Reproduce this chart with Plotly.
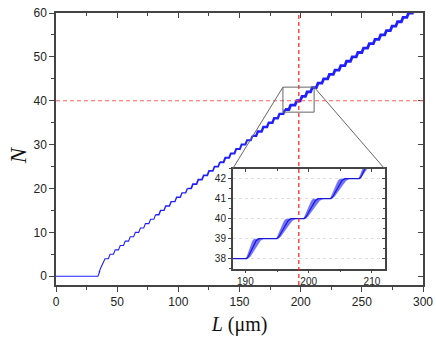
import plotly.graph_objects as go

# ---- data ----
# main curve: L (um) at which the count N steps up to each level
step_level = list(range(1, 63))
step_L = [35.0, 36.0, 37.4, 39.4, 43.5, 47.7, 51.8, 55.9, 60.0, 64.2,
          68.3, 72.4, 76.6, 80.7, 84.8, 89.0, 93.4, 97.9, 102.3, 106.7,
          111.2, 115.6, 120.0, 124.4, 128.9, 133.3, 137.7, 142.2, 146.6, 151.0,
          155.5, 159.9, 164.3, 168.8, 173.2, 177.6, 182.0, 186.5, 191.1, 196.1,
          200.4, 204.6, 208.8, 213.5, 218.1, 222.8, 227.4, 232.1, 236.8, 241.4,
          246.1, 250.7, 255.4, 260.1, 264.7, 269.4, 274.0, 278.5, 283.0, 287.5,
          292.0, 296.5]

# inset: zoomed view around N = 40 (centre curve and spread of the ensemble)
inset_N = [38.0, 38.0, 38.1, 38.3, 38.5, 38.7, 38.9, 39.0,
           39.0, 39.1, 39.3, 39.5, 39.7, 39.9, 40.0,
           40.0, 40.1, 40.3, 40.5, 40.7, 40.9, 41.0,
           41.0, 41.1, 41.3, 41.5, 41.7, 41.9, 42.0,
           42.0, 42.1, 42.3, 42.5, 42.7]
inset_L = [188.0, 190.2, 190.45, 190.75, 191.05, 191.35, 191.7, 192.1,
           195.0, 195.3, 195.65, 196.0, 196.35, 196.75, 197.2,
           199.3, 199.6, 199.95, 200.3, 200.65, 201.05, 201.5,
           203.5, 203.8, 204.15, 204.5, 204.85, 205.25, 205.7,
           208.0, 208.3, 208.6, 208.9, 209.2]
band_lo = [188.0, 190.0, 190.2, 190.4, 190.6, 190.85, 191.1, 191.4,
           194.8, 195.0, 195.25, 195.5, 195.8, 196.1, 196.4,
           199.1, 199.3, 199.55, 199.8, 200.1, 200.4, 200.7,
           203.3, 203.5, 203.75, 204.0, 204.3, 204.6, 204.9,
           207.8, 208.0, 208.25, 208.5, 208.75]
band_hi = [188.0, 190.4, 190.8, 191.2, 191.6, 192.0, 192.4, 192.9,
           195.2, 195.6, 196.05, 196.5, 196.95, 197.45, 198.0,
           199.5, 199.9, 200.35, 200.8, 201.25, 201.75, 202.4,
           203.7, 204.1, 204.55, 205.0, 205.45, 205.95, 206.5,
           208.2, 208.5, 208.9, 209.3, 209.7]

L_mark = 198.5     # red dashed vertical
N_mark = 40        # red dashed horizontal
zoom_box = dict(x0=185.5, x1=211.0, y0=37.4, y1=43.1)

# ---- layout constants ----
x_range = [0, 300]
y_range = [-2, 60]
inset_dx = [0.4815, 0.8954]
inset_dy = [0.06, 0.4276]
rise = 1.4
axis_col = '#444444'
tick_font = dict(family='Liberation Sans, Arial', size=12, color='#222222')
serif = 'Liberation Serif, Times New Roman'

# staircase from the step list
main_L, main_N = [0.0], [0]
for k, L in zip(step_level, step_L):
    main_L += [L - rise / 2, L + rise / 2]
    main_N += [k - 1, k]

fig = go.Figure()

# the ensemble spreads with N, so the curve gets thicker going up
seg_edges = [0, 14, 20, 26, 32, 38, 62]
seg_width = [1.1, 1.4, 1.7, 2.0, 2.4, 2.8]
for a, b, w in zip(seg_edges[:-1], seg_edges[1:], seg_width):
    i0, i1 = 2 * a, 2 * b + 1
    fig.add_trace(go.Scatter(x=main_L[i0:i1], y=main_N[i0:i1], mode='lines',
                             line=dict(color='#2020ff', width=w),
                             hoverinfo='skip'))

# inset: ensemble band + centre curve
fig.add_trace(go.Scatter(x=band_lo + band_hi[::-1], y=inset_N + inset_N[::-1],
                         mode='lines', fill='toself',
                         fillcolor='rgba(80,80,255,0.8)',
                         line=dict(width=0, color='rgba(0,0,0,0)'),
                         xaxis='x2', yaxis='y2', hoverinfo='skip'))
fig.add_trace(go.Scatter(x=inset_L, y=inset_N, mode='lines',
                         line=dict(color='#1818d8', width=1.2),
                         xaxis='x2', yaxis='y2', hoverinfo='skip'))

# dummy traces so the mirror axes (inward ticks on top/right) are drawn
fig.add_trace(go.Scatter(x=[x_range[0]], y=[y_range[0]], mode='markers',
                         marker=dict(opacity=0), xaxis='x3', yaxis='y3',
                         hoverinfo='skip'))
fig.add_trace(go.Scatter(x=[190], y=[38], mode='markers',
                         marker=dict(opacity=0), xaxis='x4', yaxis='y4',
                         hoverinfo='skip'))

base = dict(showline=True, linecolor=axis_col, linewidth=1.5, showgrid=False,
            zeroline=False, ticks='outside', tickcolor=axis_col, tickwidth=1.2,
            tickfont=tick_font, automargin=False)
mirror_ax = dict(showline=False, showgrid=False, zeroline=False,
                 showticklabels=False, ticks='inside', tickcolor=axis_col,
                 tickwidth=1.2, automargin=False)

fig.update_layout(
    width=436, height=342,
    margin=dict(l=55.5, r=13.3, t=13.3, b=56.7, pad=0),
    plot_bgcolor='white', paper_bgcolor='white',
    showlegend=False,
    xaxis=dict(base, range=x_range, tick0=0, dtick=50, ticklen=5, mirror=True,
               minor=dict(dtick=25, ticks='outside', ticklen=3, tickcolor=axis_col),
               title=dict(text='<i>L</i> (μm)', standoff=9,
                          font=dict(family=serif, size=20, color='#111111'))),
    yaxis=dict(base, range=y_range, tick0=0, dtick=10, ticklen=5, mirror=True,
               minor=dict(dtick=5, ticks='outside', ticklen=3, tickcolor=axis_col)),
    xaxis3=dict(mirror_ax, overlaying='x', side='top', anchor='y', range=x_range,
                tick0=0, dtick=50, ticklen=5,
                minor=dict(dtick=25, ticks='inside', ticklen=3, tickcolor=axis_col)),
    yaxis3=dict(mirror_ax, overlaying='y', side='right', anchor='x', range=y_range,
                tick0=0, dtick=10, ticklen=5,
                minor=dict(dtick=5, ticks='inside', ticklen=3, tickcolor=axis_col)),
    xaxis2=dict(base, domain=inset_dx, anchor='y2', range=[188, 212],
                tick0=190, dtick=10, ticklen=3, mirror=True,
                tickfont=dict(tick_font, size=10),
                minor=dict(dtick=5, ticks='outside', ticklen=2, tickcolor=axis_col)),
    yaxis2=dict(base, domain=inset_dy, anchor='x2', range=[37.5, 42.5],
                dtick=1, ticklen=3, mirror=True,
                tickfont=dict(tick_font, size=10),
                showgrid=True, gridcolor='#dedede', griddash='dot', gridwidth=1,
                minor=dict(dtick=0.5, ticks='outside', ticklen=2, tickcolor=axis_col)),
    xaxis4=dict(mirror_ax, overlaying='x2', side='top', anchor='y2', range=[188, 212],
                tick0=190, dtick=10, ticklen=3,
                minor=dict(dtick=5, ticks='inside', ticklen=2, tickcolor=axis_col)),
    yaxis4=dict(mirror_ax, overlaying='y2', side='right', anchor='x2',
                range=[37.5, 42.5], dtick=1, ticklen=3,
                minor=dict(dtick=0.5, ticks='inside', ticklen=2, tickcolor=axis_col)),
)

# y title as a rotated annotation (placed where the original has it)
fig.add_annotation(text='<i>N</i>', xref='paper', yref='paper', x=-0.102, y=0.475,
                   xanchor='center', yanchor='middle', textangle=-90,
                   showarrow=False,
                   font=dict(family=serif, size=23, color='#111111'))

# red dashed guide lines
fig.add_shape(type='line', xref='x', yref='y domain', x0=L_mark, x1=L_mark,
              y0=0, y1=1, layer='above',
              line=dict(color='#ff1a1a', width=1.2, dash='4px,3px'))
fig.add_shape(type='line', xref='x domain', yref='y', x0=0, x1=1,
              y0=N_mark, y1=N_mark, layer='above',
              line=dict(color='#ff6060', width=1.2, dash='4px,3px'))

# zoom box and connectors to the inset corners
fig.add_shape(type='rect', xref='x', yref='y', **zoom_box,
              line=dict(color='#666666', width=1))
ix0 = x_range[0] + inset_dx[0] * (x_range[1] - x_range[0])
ix1 = x_range[0] + inset_dx[1] * (x_range[1] - x_range[0])
iy1 = y_range[0] + inset_dy[1] * (y_range[1] - y_range[0])
fig.add_shape(type='line', xref='x', yref='y', x0=zoom_box['x0'], y0=zoom_box['y1'],
              x1=ix0, y1=iy1, line=dict(color='#666666', width=1))
fig.add_shape(type='line', xref='x', yref='y', x0=zoom_box['x1'], y0=zoom_box['y1'],
              x1=ix1, y1=iy1, line=dict(color='#666666', width=1))

# drop the browser's default 8px body margin so the figure fills the window
fig.write_html("out.html", config={'displayModeBar': False},
               post_script="document.body.style.margin = '0';")
